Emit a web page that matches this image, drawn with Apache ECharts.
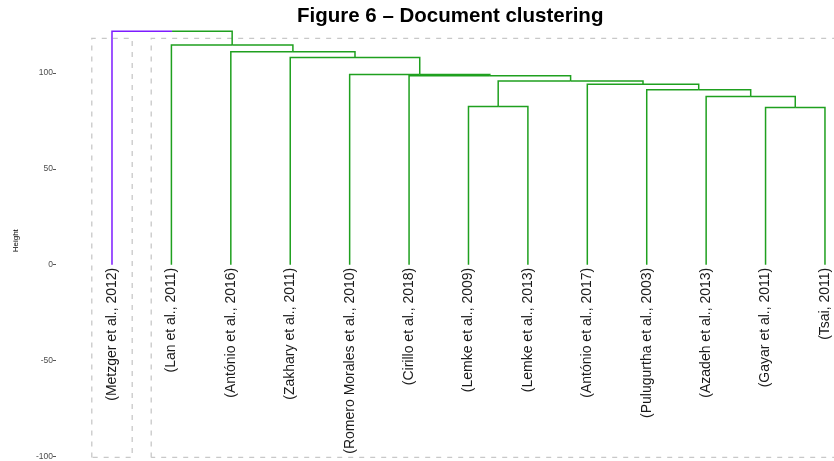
<!DOCTYPE html>
<html lang="en">
<head>
  <meta charset="UTF-8">
  <title>Figure 6 – Document clustering</title>
  <script src="https://cdn.jsdelivr.net/npm/echarts@6/dist/echarts.min.js"></script>
  <style>
    html, body { margin: 0; padding: 0; background: #fff; }
    #chart { width: 834px; height: 461px; }
  </style>
</head>
<body>
  <div id="chart"></div>
  <script type="text/javascript">
    // leaves in dendrogram order
    var leaves = [
      '(Metzger et al., 2012)', '(Lan et al., 2011)', '(António et al., 2016)',
      '(Zakhary et al., 2011)', '(Romero Morales et al., 2010)', '(Cirillo et al., 2018)',
      '(Lemke et al., 2009)', '(Lemke et al., 2013)', '(António et al., 2017)',
      '(Pulugurtha et al., 2003)', '(Azadeh et al., 2013)', '(Gayar et al., 2011)',
      '(Tsai, 2011)'
    ];
    // hclust-style merges: negative = leaf (1-based), positive = earlier merge
    var mergeLeft = [-12, -7, -11, -10, -9, 2, -6, -5, -4, -3, -2, -1];
    var mergeRight = [-13, -8, 1, 3, 4, 5, 6, 7, 8, 9, 10, 11];
    var mergeHeight = [82.0, 82.5, 87.7, 91.2, 94.1, 95.8, 98.6, 99.2, 108.0, 111.1, 114.6, 121.8];
    var leafCluster = [0, 1, 1, 1, 1, 1, 1, 1, 1, 1, 1, 1, 1];
    var clusterColors = ['#7d1cff', '#1fa01f'];
    var yTicks = [-100, -50, 0, 50, 100];

    // node positions
    var mergeX = [], mergeCl = [];
    function nodeX(c) { return c < 0 ? -c : mergeX[c - 1]; }
    function nodeY(c) { return c < 0 ? 0 : mergeHeight[c - 1]; }
    function nodeCl(c) { return c < 0 ? leafCluster[-c - 1] : mergeCl[c - 1]; }
    for (var i = 0; i < mergeLeft.length; i++) {
      mergeX.push((nodeX(mergeLeft[i]) + nodeX(mergeRight[i])) / 2);
      mergeCl.push(nodeCl(mergeLeft[i]));
    }

    // branch segments, each child colored by its cluster
    var branches = [];
    for (var i = 0; i < mergeLeft.length; i++) {
      [mergeLeft[i], mergeRight[i]].forEach(function (c) {
        branches.push({
          coords: [[nodeX(c), nodeY(c)], [nodeX(c), mergeHeight[i]], [mergeX[i], mergeHeight[i]]],
          lineStyle: { color: clusterColors[nodeCl(c)] }
        });
      });
    }

    // dashed boxes around clusters
    var boxes = [];
    clusterColors.forEach(function (col, k) {
      var idx = [];
      leafCluster.forEach(function (v, j) { if (v === k) idx.push(j + 1); });
      var x0 = Math.min.apply(null, idx) - 0.34, x1 = Math.max.apply(null, idx) + 0.34;
      var y0 = -100.5, y1 = 118;
      boxes.push({ coords: [[x0, y0], [x0, y1], [x1, y1], [x1, y0], [x0, y0]] });
    });

    var leafData = leaves.map(function (name, j) { return [j + 1, 0]; });

    var myChart = echarts.init(document.getElementById('chart'));
    var option = {
      animation: false,
      title: {
        text: 'Figure 6 – Document clustering',
        left: 292,
        top: 1,
        textStyle: { fontFamily: 'Liberation Sans', fontWeight: 'bold', fontSize: 20.5, color: '#000' }
      },
      grid: { left: 56, right: 0, top: 25, bottom: 4 },
      xAxis: {
        type: 'value',
        min: 0.0576,
        max: 13.152,
        show: false
      },
      yAxis: {
        type: 'value',
        min: -100,
        max: 125,
        interval: 50,
        name: 'Height',
        nameLocation: 'middle',
        nameGap: 36,
        nameTextStyle: { fontFamily: 'Liberation Sans', fontSize: 8, color: '#000' },
        axisLine: { show: false },
        axisTick: { show: true, length: 3, lineStyle: { color: '#555', width: 1 } },
        axisLabel: {
          fontFamily: 'Liberation Sans', fontSize: 8.5, color: '#4d4d4d', margin: 3,
          showMaxLabel: false,
          formatter: function (v) { return yTicks.indexOf(v) >= 0 ? String(v) : ''; }
        },
        splitLine: { show: false }
      },
      series: [
        {
          type: 'lines',
          coordinateSystem: 'cartesian2d',
          polyline: true,
          clip: false,
          silent: true,
          z: 1,
          lineStyle: { color: '#c8c8c8', width: 1.3, type: [5, 6], opacity: 1 },
          data: boxes
        },
        {
          type: 'lines',
          coordinateSystem: 'cartesian2d',
          polyline: true,
          clip: false,
          silent: true,
          z: 2,
          lineStyle: { width: 1.5, opacity: 1 },
          data: branches
        },
        {
          type: 'custom',
          coordinateSystem: 'cartesian2d',
          clip: false,
          silent: true,
          z: 3,
          data: leafData,
          renderItem: function (params, api) {
            var p = api.coord([api.value(0), api.value(1)]);
            return {
              type: 'text',
              x: p[0],
              y: p[1] + 3,
              rotation: Math.PI / 2,
              style: {
                text: leaves[params.dataIndex],
                textAlign: 'right',
                textVerticalAlign: 'middle',
                fontFamily: 'Liberation Sans',
                fontSize: 14,
                fill: '#1a1a1a'
              }
            };
          }
        }
      ]
    };
    option && myChart.setOption(option);
  </script>
</body>
</html>
